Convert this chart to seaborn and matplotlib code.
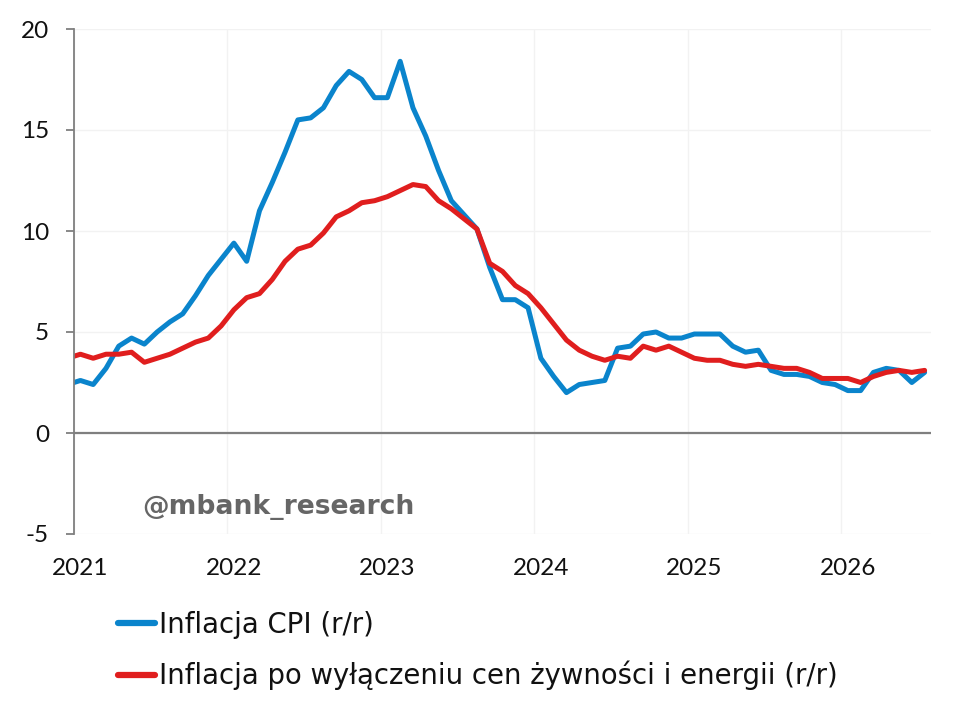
import numpy as np
import pandas as pd
import matplotlib
matplotlib.use("Agg")
import matplotlib.pyplot as plt
import seaborn as sns

# monthly data, Dec 2020 - Jul 2026 (first point sits just left of the axis)
start_year = 2020
start_month = 12
cpi = [2.4,
       2.6, 2.4, 3.2, 4.3, 4.7, 4.4, 5.0, 5.5, 5.9, 6.8, 7.8, 8.6,
       9.4, 8.5, 11.0, 12.4, 13.9, 15.5, 15.6, 16.1, 17.2, 17.9, 17.5, 16.6,
       16.6, 18.4, 16.1, 14.7, 13.0, 11.5, 10.8, 10.1, 8.2, 6.6, 6.6, 6.2,
       3.7, 2.8, 2.0, 2.4, 2.5, 2.6, 4.2, 4.3, 4.9, 5.0, 4.7, 4.7,
       4.9, 4.9, 4.9, 4.3, 4.0, 4.1, 3.1, 2.9, 2.9, 2.8, 2.5, 2.4,
       2.1, 2.1, 3.0, 3.2, 3.1, 2.5, 3.0]
core = [3.7,
        3.9, 3.7, 3.9, 3.9, 4.0, 3.5, 3.7, 3.9, 4.2, 4.5, 4.7, 5.3,
        6.1, 6.7, 6.9, 7.6, 8.5, 9.1, 9.3, 9.9, 10.7, 11.0, 11.4, 11.5,
        11.7, 12.0, 12.3, 12.2, 11.5, 11.1, 10.6, 10.1, 8.4, 8.0, 7.3, 6.9,
        6.2, 5.4, 4.6, 4.1, 3.8, 3.6, 3.8, 3.7, 4.3, 4.1, 4.3, 4.0,
        3.7, 3.6, 3.6, 3.4, 3.3, 3.4, 3.3, 3.2, 3.2, 3.0, 2.7, 2.7,
        2.7, 2.5, 2.8, 3.0, 3.1, 3.0, 3.1]
labels = ["Inflacja CPI (r/r)",
          "Inflacja po wyłączeniu cen żywności i energii (r/r)"]
years = [2021, 2022, 2023, 2024, 2025, 2026]

# month positions as fractional years (mid-month)
t = [start_year + (start_month - 1 + i + 0.5) / 12 for i in range(len(cpi))]
df = pd.concat([
    pd.DataFrame({"t": t, "val": cpi, "series": labels[0]}),
    pd.DataFrame({"t": t, "val": core, "series": labels[1]}),
])

sns.set_style("white")
plt.rcParams["font.family"] = ["Lato", "DejaVu Sans"]
plt.rcParams["axes.unicode_minus"] = False

fig = plt.figure(figsize=(9.6, 7.07), dpi=100)
ax = fig.add_axes([74 / 960, 1 - 534 / 707, (931 - 74) / 960, (534 - 29) / 707])

sns.lineplot(data=df, x="t", y="val", hue="series", ax=ax,
             palette={labels[0]: "#0A84CC", labels[1]: "#E01E1E"},
             linewidth=3.6, legend=False)

ax.set_xlim(2021, 2026 + 7 / 12)
ax.set_ylim(-5, 20)
ax.set_yticks([-5, 0, 5, 10, 15, 20])
ax.set_xticks([y + 0.5 / 12 for y in years])
ax.set_xticklabels([str(y) for y in years])
ax.set_xticks(years, minor=True)
ax.set_xlabel("")
ax.set_ylabel("")

ax.grid(axis="y", which="major", color="#F2F2F2", linewidth=1)
ax.grid(axis="x", which="minor", color="#F2F2F2", linewidth=1)
ax.tick_params(axis="x", which="both", length=0, pad=17, labelsize=17.5, labelcolor="#111111")
ax.tick_params(axis="y", length=6, width=1.3, color="#7F7F7F", pad=12, labelsize=17.5,
               labelcolor="#111111", left=True)

for s in ["top", "right", "bottom"]:
    ax.spines[s].set_visible(False)
ax.spines["left"].set_color("#7F7F7F")
ax.spines["left"].set_linewidth(1.3)
ax.axhline(0, color="#7F7F7F", linewidth=1.6, zorder=1)

fig.text(278 / 960, 1 - 507 / 707, "@mbank_research", ha="center", va="center",
         fontsize=19.2, fontweight="bold", color="#666666", family="DejaVu Sans")

handles = [plt.Line2D([], [], color="#0A84CC", linewidth=4.5, solid_capstyle="round"),
           plt.Line2D([], [], color="#E01E1E", linewidth=4.5, solid_capstyle="round")]
leg = fig.legend(handles, labels, loc="upper left", bbox_to_anchor=(118 / 960, 1 - 611 / 707),
                 frameon=False, borderpad=0, borderaxespad=0,
                 prop={"family": "DejaVu Sans", "size": 19.8},
                 handlelength=1.35, handletextpad=0.15, labelspacing=0.8)
for txt in leg.get_texts():
    txt.set_color("#111111")

fig.savefig("out.png", dpi=100)
